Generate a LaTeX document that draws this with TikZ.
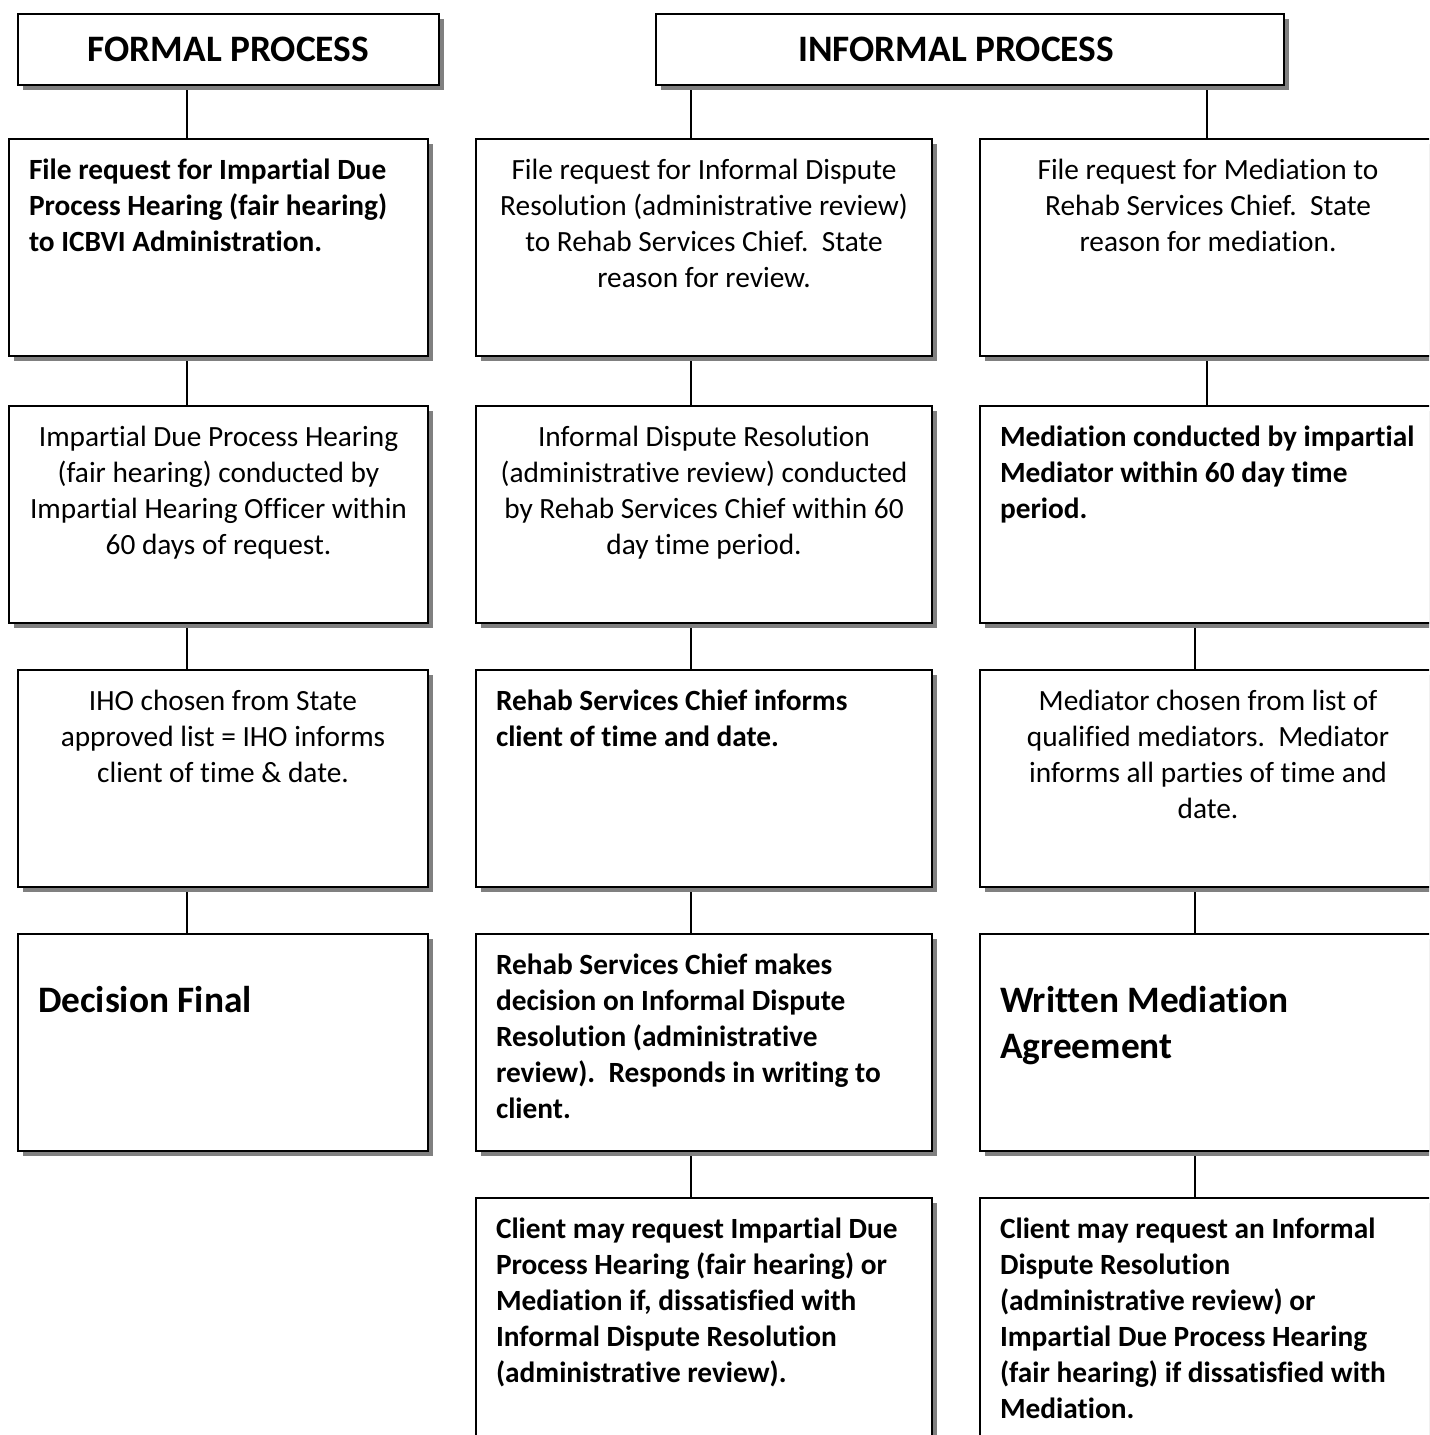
\documentclass[tikz,border=0pt]{standalone}
\usepackage{fontspec}
\setmainfont{Carlito}[Ligatures=NoCommon]
\usepackage{tikz}
\usetikzlibrary{shadows}
\usetikzlibrary{backgrounds}
\newlength{\unitpx}
\setlength{\unitpx}{0.375pt}
\newcommand{\cellbody}[3]{\parbox[t][#2\unitpx][t]{#1\unitpx}{#3}}

\begin{document}
\begin{tikzpicture}[
  x=0.375pt, y=-0.375pt,
  every node/.style={anchor=north west, font=\fontsize{11}{13.5}\selectfont},
  cell/.style={draw, line width=0.75pt, fill=white, inner xsep=20\unitpx, inner ysep=20\unitpx,
    drop shadow={shadow xshift=5\unitpx, shadow yshift=-5\unitpx, fill=black!50, opacity=1}},
  head/.style={cell, inner sep=0pt, font=\fontsize{14}{17}\selectfont\bfseries, align=center},
  link/.style={line width=0.75pt}
]
\useasboundingbox (0,0) rectangle (1429,1435);
\clip (0,0) rectangle (1429,1435);

% headings
\node[head, minimum width=421\unitpx, minimum height=71\unitpx] (formal) at (17,13) {FORMAL PROCESS};
\node[head, minimum width=628\unitpx, minimum height=71\unitpx] (informal) at (655,13) {INFORMAL PROCESS\hspace*{28\unitpx}};

% formal column
\node[cell] (a1) at (8,138) {\cellbody{379}{177}{\raggedright\bfseries File request for Impartial Due\\Process Hearing (fair hearing)\\to ICBVI Administration.}};
\node[cell] (a2) at (8,405) {\cellbody{379}{177}{\centering Impartial Due Process Hearing\\(fair hearing) conducted by\\Impartial Hearing Officer within\\60 days of request.}};
\node[cell] (a3) at (17,669) {\cellbody{370}{177}{\centering IHO chosen from State\\approved list = IHO informs\\client of time \& date.}};
\node[cell] (a4) at (17,933) {\cellbody{370}{177}{\vspace*{32\unitpx}\raggedright\fontsize{14}{17}\selectfont\bfseries Decision Final}};

% informal dispute resolution column
\node[cell] (b1) at (475,138) {\cellbody{416}{177}{\centering File request for Informal Dispute\\Resolution (administrative review)\\to Rehab Services Chief.\ \ State\\reason for review.}};
\node[cell] (b2) at (475,405) {\cellbody{416}{177}{\centering Informal Dispute Resolution\\(administrative review) conducted\\by Rehab Services Chief within 60\\day time period.}};
\node[cell] (b3) at (475,669) {\cellbody{416}{177}{\raggedright\bfseries Rehab Services Chief informs\\client of time and date.}};
\node[cell] (b4) at (475,933) {\cellbody{416}{177}{\raggedright\bfseries Rehab Services Chief makes\\decision on Informal Dispute\\Resolution (administrative\\review).\ \ Responds in writing to\\client.}};
\node[cell] (b5) at (475,1197) {\cellbody{416}{220}{\raggedright\bfseries Client may request Impartial Due\\Process Hearing (fair hearing) or\\Mediation if, dissatisfied with\\Informal Dispute Resolution\\(administrative review).}};

% mediation column
\node[cell] (c1) at (979,138) {\cellbody{416}{177}{\centering File request for Mediation to\\Rehab Services Chief.\ \ State\\reason for mediation.}};
\node[cell] (c2) at (979,405) {\cellbody{416}{177}{\raggedright\bfseries Mediation conducted by impartial\\Mediator within 60 day time\\period.}};
\node[cell] (c3) at (979,669) {\cellbody{416}{177}{\centering Mediator chosen from list of\\qualified mediators.\ \ Mediator\\informs all parties of time and\\date.}};
\node[cell] (c4) at (979,933) {\cellbody{416}{177}{\vspace*{32\unitpx}\raggedright\fontsize{14}{17.5}\selectfont\bfseries Written Mediation\\Agreement}};
\node[cell] (c5) at (979,1197) {\cellbody{416}{220}{\raggedright\bfseries Client may request an Informal\\Dispute Resolution\\(administrative review) or\\Impartial Due Process Hearing\\(fair hearing) if dissatisfied with\\Mediation.}};

% connectors
\coordinate (colA) at (187,0);
\coordinate (colB) at (691,0);
\coordinate (colC) at (1207,0);
\coordinate (colD) at (1195,0);
\begin{scope}[on background layer]
\draw[link] (formal.south -| colA) -- (a1.north -| colA);
\draw[link] (a1.south -| colA) -- (a2.north -| colA);
\draw[link] (a2.south -| colA) -- (a3.north -| colA);
\draw[link] (a3.south -| colA) -- (a4.north -| colA);
\draw[link] (informal.south -| colB) -- (b1.north -| colB);
\draw[link] (b1.south -| colB) -- (b2.north -| colB);
\draw[link] (b2.south -| colB) -- (b3.north -| colB);
\draw[link] (b3.south -| colB) -- (b4.north -| colB);
\draw[link] (b4.south -| colB) -- (b5.north -| colB);
\draw[link] (informal.south -| colC) -- (c1.north -| colC);
\draw[link] (c1.south -| colC) -- (c2.north -| colC);
\draw[link] (c2.south -| colD) -- (c3.north -| colD);
\draw[link] (c3.south -| colD) -- (c4.north -| colD);
\draw[link] (c4.south -| colD) -- (c5.north -| colD);
\end{scope}
\end{tikzpicture}
\end{document}
